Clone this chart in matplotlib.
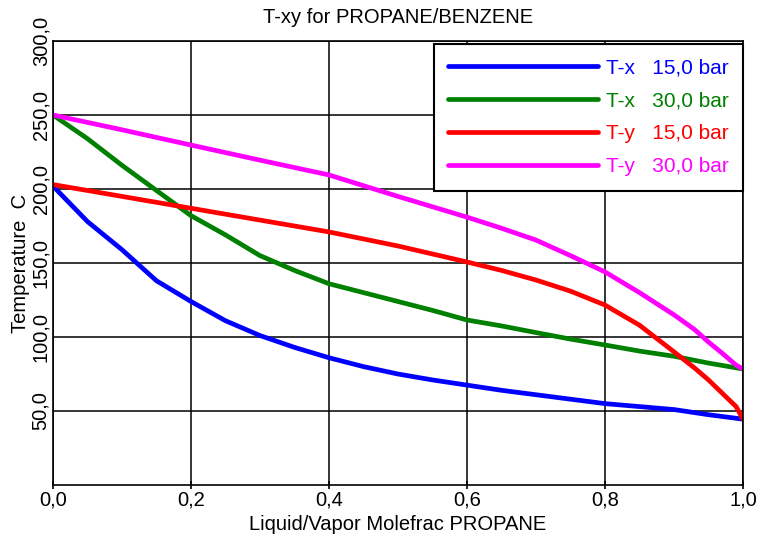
import numpy as np
import matplotlib.pyplot as plt
from matplotlib.ticker import FuncFormatter

plt.rcParams['font.family'] = ['Liberation Sans', 'DejaVu Sans']

# liquid / vapour mole fraction of propane
x = [0.0, 0.05, 0.1, 0.15, 0.2, 0.25, 0.3, 0.35, 0.4, 0.45, 0.5,
     0.55, 0.6, 0.65, 0.7, 0.75, 0.8, 0.85, 0.9, 0.95, 1.0]

# T-x curves (bubble point), C
tx_15 = [202, 178, 159, 138, 124, 111, 101, 93, 86, 80, 75,
         71, 67.5, 64, 61, 58, 55, 53, 51, 47.5, 44.5]
tx_30 = [250, 234, 216, 199, 182, 169, 155, 145, 136, 130, 124,
         118, 111.5, 107.5, 103, 98.6, 94.6, 90.5, 87, 82.4, 78.4]

# T-y curves (dew point), C
y_dew = [0.0, 0.1, 0.2, 0.3, 0.4, 0.5, 0.6, 0.65, 0.7, 0.75, 0.8,
         0.85, 0.9, 0.93, 0.95, 0.97, 0.99, 1.0]
ty_15 = [203, 195, 187, 179, 171, 161.5, 150.7, 145, 138.5, 131, 121.6,
         108, 90, 79, 71, 62, 53, 44.5]
ty_30 = [250, 240, 229.7, 219.5, 209.5, 195, 181, 173.5, 165.5, 155, 144,
         130, 115, 105, 96.6, 89, 81, 78.4]

labels = ["T-x   15,0 bar", "T-x   30,0 bar", "T-y   15,0 bar", "T-y   30,0 bar"]
colors = ["#0000ff", "#008000", "#ff0000", "#ff00ff"]

fs = 14.5

fig = plt.figure(figsize=(7.58, 5.36), dpi=100)
ax = fig.add_axes([0.0699, 0.0951, 0.9103, 0.8284])

series = [(x, tx_15), (x, tx_30), (y_dew, ty_15), (y_dew, ty_30)]
for (xs, ts), lab, c in zip(series, labels, colors):
    ax.plot(xs, ts, color=c, lw=3.4, label=lab, solid_capstyle='round')

ax.set_xlim(0, 1)
ax.set_ylim(0, 300)
ax.set_xticks(np.arange(0, 1.01, 0.2))
ax.set_yticks(np.arange(50, 301, 50))
comma = FuncFormatter(lambda v, p: "{:.1f}".format(v).replace(".", ","))
ax.xaxis.set_major_formatter(comma)
ax.yaxis.set_major_formatter(comma)
ax.grid(True, color='black', lw=1.1)
for s in ax.spines.values():
    s.set_linewidth(1.2)
ax.tick_params(axis='x', direction='inout', length=6, width=1.2, labelsize=fs, pad=1)
ax.tick_params(axis='y', length=0, labelsize=fs, pad=2)
for t in ax.get_yticklabels():
    t.set_rotation(90)
    t.set_va('center')

ax.set_title("T-xy for PROPANE/BENZENE", fontsize=fs, pad=13)
ax.set_xlabel("Liquid/Vapor Molefrac PROPANE", fontsize=fs, labelpad=4)
ax.set_ylabel("Temperature  C", fontsize=fs, labelpad=1)

leg = ax.legend(loc='upper right', bbox_to_anchor=(1.0, 0.993), borderaxespad=0,
                fontsize=15, handlelength=7.2, handletextpad=0.35,
                labelcolor='linecolor', fancybox=False, framealpha=1,
                edgecolor='black', borderpad=0.7, labelspacing=0.66)
leg.get_frame().set_linewidth(1.5)

fig.savefig("out.png", dpi=100)
